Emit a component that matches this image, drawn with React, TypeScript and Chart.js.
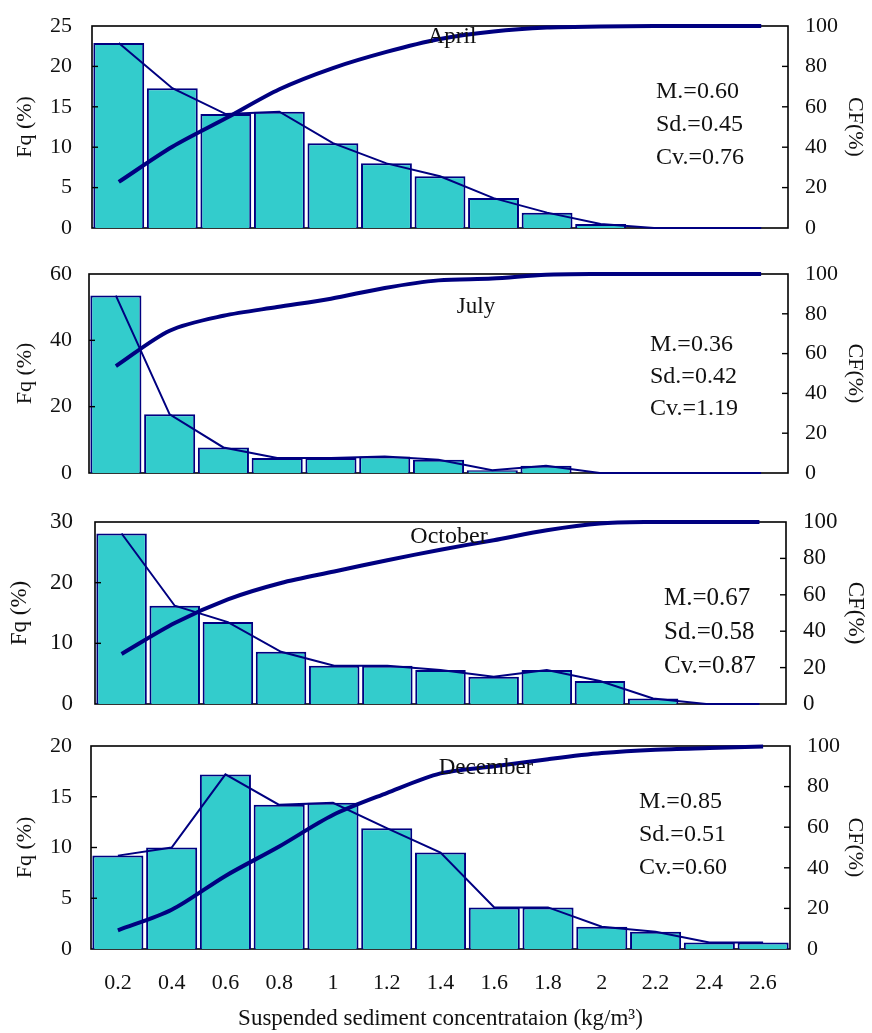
import React, { useEffect, useRef } from "react";
import { Chart, registerables } from "chart.js";

Chart.register(...registerables);

const FONT = "'Liberation Serif', 'Times New Roman', Times, serif";
const NAVY = "#000080";
const TEAL = "#33CCCC";
const INK = "#111111";

// ---- data ----
const sizeClasses = ["0.2", "0.4", "0.6", "0.8", "1", "1.2", "1.4", "1.6", "1.8", "2", "2.2", "2.4", "2.6"];

const aprilFq = [22.9, 17.3, 14.1, 14.4, 10.5, 8.0, 6.4, 3.7, 1.9, 0.5, 0, 0, 0];
const aprilCF = [22.8, 40.2, 54.3, 68.7, 79.2, 87.2, 93.6, 97.3, 99.2, 99.7, 100, 100, 100];
const aprilStats = ["M.=0.60", "Sd.=0.45", "Cv.=0.76"];

const julyFq = [53.5, 17.7, 7.7, 4.5, 4.5, 5.0, 4.0, 0.8, 2.2, 0, 0, 0, 0];
const julyCF = [53.7, 71.5, 79.0, 83.4, 87.6, 93.0, 96.8, 97.7, 99.6, 100, 100, 100, 100];
const julyStats = ["M.=0.36", "Sd.=0.42", "Cv.=1.19"];

const octoberFq = [28.1, 16.2, 13.5, 8.6, 6.3, 6.3, 5.6, 4.5, 5.6, 3.8, 0.9, 0, 0];
const octoberCF = [27.5, 44.5, 57.5, 66.5, 72.8, 79.0, 84.8, 90.0, 95.5, 99.2, 100, 100, 100];
const octoberStats = ["M.=0.67", "Sd.=0.58", "Cv.=0.87"];

const decemberFq = [9.2, 10.0, 17.2, 14.2, 14.4, 11.9, 9.5, 4.1, 4.1, 2.2, 1.7, 0.65, 0.65];
const decemberCF = [9.2, 19.3, 36.0, 50.5, 66.0, 76.8, 86.5, 90.0, 93.5, 96.5, 98.2, 99.0, 99.7];
const decemberStats = ["M.=0.85", "Sd.=0.51", "Cv.=0.60"];

const fqMaxes = [25, 60, 30, 20];
const fqSteps = [5, 20, 10, 5];
const cfMax = 100;
const cfStep = 20;

const xTitle = "Suspended sediment concentrataion (kg/m³)";

// ---- layout ----
type Cfg = {
  month: string;
  fq: number[];
  cf: number[];
  stats: string[];
  fqMax: number;
  fqStep: number;
  top: number;
  bottom: number;
  left: number;
  right: number;
  padL: number;
  padR: number;
  titleLX: number;
  monthX: number;
  monthY: number;
  statsX: number;
  statsY: number;
  statsGap: number;
  fs: number;
  showX: boolean;
};

const panels: Cfg[] = [
  { month: "April", fq: aprilFq, cf: aprilCF, stats: aprilStats, fqMax: fqMaxes[0], fqStep: fqSteps[0],
    top: 26, bottom: 228, left: 92, right: 788, padL: 20, padR: 17, titleLX: 25,
    monthX: 452, monthY: 37, statsX: 656, statsY: 92, statsGap: 33, fs: 21, showX: false },
  { month: "July", fq: julyFq, cf: julyCF, stats: julyStats, fqMax: fqMaxes[1], fqStep: fqSteps[1],
    top: 274, bottom: 473, left: 89, right: 788, padL: 17, padR: 17, titleLX: 25,
    monthX: 476, monthY: 307, statsX: 650, statsY: 345, statsGap: 32, fs: 21, showX: false },
  { month: "October", fq: octoberFq, cf: octoberCF, stats: octoberStats, fqMax: fqMaxes[2], fqStep: fqSteps[2],
    top: 522, bottom: 704, left: 95, right: 786, padL: 22, padR: 17, titleLX: 20,
    monthX: 449, monthY: 537, statsX: 664, statsY: 598, statsGap: 34, fs: 22, showX: false },
  { month: "December", fq: decemberFq, cf: decemberCF, stats: decemberStats, fqMax: fqMaxes[3], fqStep: fqSteps[3],
    top: 746, bottom: 949, left: 91, right: 790, padL: 19, padR: 17, titleLX: 25,
    monthX: 486, monthY: 768, statsX: 639, statsY: 802, statsGap: 33, fs: 21, showX: true },
];

const PAGE_W = 872;
const PAGE_H = 1033;
const PAD_TOP = 16;

function makePlugin(cfg: Cfg, canvasTop: number) {
  return {
    id: "panelDecor",
    beforeDatasetsDraw(chart: any) {
      const { ctx, chartArea: a } = chart;
      ctx.save();
      ctx.strokeStyle = "#000000";
      ctx.lineWidth = 1.6;
      ctx.strokeRect(a.left, a.top, a.right - a.left, a.bottom - a.top);
      ctx.restore();
    },
    afterDatasetsDraw(chart: any) {
      const { ctx, chartArea: a, scales } = chart;
      ctx.save();
      // inward tick marks
      ctx.strokeStyle = "#000000";
      ctx.lineWidth = 1.4;
      const yS = scales.y;
      yS.ticks.forEach((t: any) => {
        if (t.value <= 0 || t.value >= cfg.fqMax) return;
        const py = yS.getPixelForValue(t.value);
        ctx.beginPath();
        ctx.moveTo(a.left, py);
        ctx.lineTo(a.left + 6, py);
        ctx.stroke();
      });
      const y1 = scales.y1;
      y1.ticks.forEach((t: any) => {
        if (t.value <= 0 || t.value >= cfMax) return;
        const py = y1.getPixelForValue(t.value);
        ctx.beginPath();
        ctx.moveTo(a.right, py);
        ctx.lineTo(a.right - 6, py);
        ctx.stroke();
      });
      // month label
      ctx.fillStyle = INK;
      ctx.textBaseline = "middle";
      ctx.textAlign = "center";
      ctx.font = `${cfg.fs + 2}px ${FONT}`;
      ctx.fillText(cfg.month, cfg.monthX, cfg.monthY - canvasTop);
      // stats
      ctx.textAlign = "left";
      ctx.font = `${cfg.fs + 3}px ${FONT}`;
      cfg.stats.forEach((s, i) => {
        ctx.fillText(s, cfg.statsX, cfg.statsY + i * cfg.statsGap - canvasTop);
      });
      ctx.restore();
    },
  };
}

function Panel({ cfg }: { cfg: Cfg }) {
  const ref = useRef<HTMLCanvasElement>(null);
  const canvasTop = cfg.top - PAD_TOP;
  const xh = cfg.showX ? PAGE_H - cfg.bottom : 16;
  const canvasH = cfg.bottom + xh - canvasTop;

  useEffect(() => {
    const tickFont = { family: FONT, size: cfg.fs + 1 };
    const titleFont = { family: FONT, size: cfg.fs + 1 };
    const lh = (cfg.fs + 1) * 1.2;
    const chart = new Chart(ref.current as HTMLCanvasElement, {
      type: "bar",
      data: {
        labels: sizeClasses,
        datasets: [
          {
            type: "line",
            data: cfg.cf,
            yAxisID: "y1",
            borderColor: NAVY,
            borderWidth: 4,
            pointRadius: 0,
            tension: 0.3,
            clip: 8,
            order: 1,
          } as any,
          {
            type: "line",
            data: cfg.fq,
            yAxisID: "y",
            borderColor: NAVY,
            borderWidth: 2,
            pointRadius: 0,
            tension: 0,
            clip: 6,
            order: 2,
          } as any,
          {
            type: "bar",
            data: cfg.fq,
            yAxisID: "y",
            backgroundColor: TEAL,
            borderColor: NAVY,
            borderWidth: 2,
            barPercentage: 1,
            categoryPercentage: 0.95,
            order: 3,
          } as any,
        ],
      },
      options: {
        responsive: false,
        animation: false,
        layout: { padding: { top: PAD_TOP, left: 0, right: 0, bottom: 0 }, autoPadding: false },
        plugins: { legend: { display: false }, tooltip: { enabled: false } },
        scales: {
          x: {
            type: "category",
            offset: true,
            grid: { display: false, drawTicks: false },
            border: { display: false },
            ticks: { display: cfg.showX, padding: 21, font: { family: FONT, size: 22 }, color: INK, maxRotation: 0, autoSkip: false },
            title: {
              display: cfg.showX,
              text: xTitle,
              font: { family: FONT, size: 23 },
              color: INK,
              padding: { top: 0, bottom: 0 },
            },
            afterFit: (s: any) => {
              s.height = xh;
              s.paddingLeft = 0;
              s.paddingRight = 0;
              s.paddingTop = 0;
              s.paddingBottom = 0;
            },
          },
          y: {
            type: "linear",
            position: "left",
            min: 0,
            max: cfg.fqMax,
            ticks: { stepSize: cfg.fqStep, padding: cfg.padL, font: tickFont, color: INK, autoSkip: false },
            grid: { display: false, drawTicks: false },
            border: { display: false },
            title: {
              display: true,
              text: "Fq (%)",
              font: titleFont,
              color: INK,
              padding: { top: cfg.titleLX - lh / 2, bottom: 0 },
            },
            afterFit: (s: any) => {
              s.width = cfg.left;
              s.paddingTop = 0;
              s.paddingBottom = 0;
              s.paddingLeft = 0;
              s.paddingRight = 0;
            },
          },
          y1: {
            type: "linear",
            position: "right",
            min: 0,
            max: cfMax,
            ticks: { stepSize: cfStep, padding: cfg.padR, font: tickFont, color: INK, autoSkip: false },
            grid: { display: false, drawTicks: false },
            border: { display: false },
            title: {
              display: true,
              text: "CF(%)",
              font: titleFont,
              color: INK,
              padding: { top: PAGE_W - 855 - lh / 2, bottom: 0 },
            },
            afterFit: (s: any) => {
              s.width = PAGE_W - cfg.right;
              s.paddingTop = 0;
              s.paddingBottom = 0;
              s.paddingLeft = 0;
              s.paddingRight = 0;
            },
          },
        },
      } as any,
      plugins: [makePlugin(cfg, canvasTop)],
    });
    return () => chart.destroy();
  }, []);

  return (
    <canvas
      ref={ref}
      width={PAGE_W}
      height={canvasH}
      style={{ position: "absolute", left: 0, top: canvasTop, width: PAGE_W, height: canvasH, display: "block" }}
    />
  );
}

export default function App() {
  return (
    <div style={{ position: "absolute", left: 0, top: 0, width: PAGE_W, height: PAGE_H, background: "#ffffff" }}>
      {panels.map((p) => (
        <Panel key={p.month} cfg={p} />
      ))}
    </div>
  );
}
